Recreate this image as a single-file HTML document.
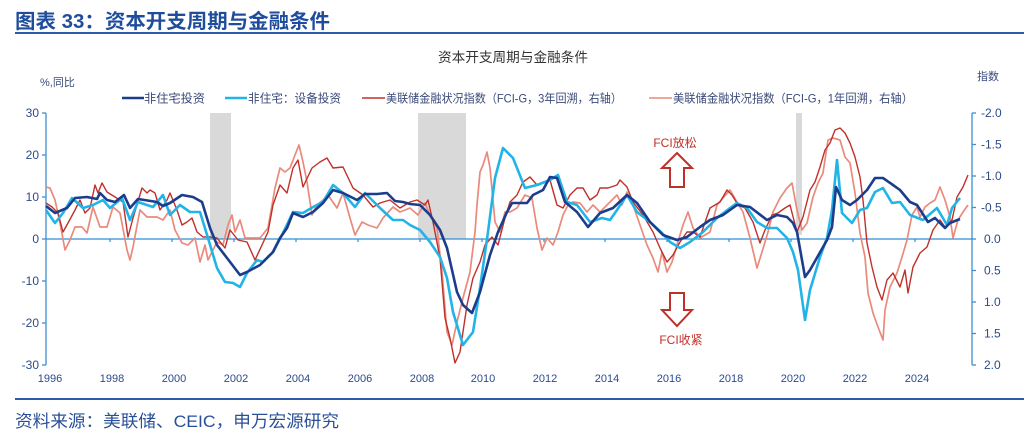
<!DOCTYPE html>
<html><head><meta charset="utf-8"><style>
html,body{margin:0;padding:0;background:#fff;}
svg{display:block;}
text{font-family:"Liberation Sans","Noto Sans CJK SC",sans-serif;}
</style></head><body>
<svg width="1024" height="434" viewBox="0 0 1024 434" xmlns="http://www.w3.org/2000/svg">
<rect width="1024" height="434" fill="#fff"/>
<!-- Title -->
<text x="15" y="28" font-size="20" font-weight="bold" fill="#1f4d9c" textLength="315" lengthAdjust="spacingAndGlyphs">图表 33：资本开支周期与金融条件</text>
<rect x="15" y="32" width="1009" height="2" fill="#2a5caa"/>
<text x="513" y="62" font-size="13.5" fill="#333" text-anchor="middle" textLength="150" lengthAdjust="spacingAndGlyphs">资本开支周期与金融条件</text>
<text x="40" y="86" font-size="11" fill="#3a4a7a">%,同比</text>
<text x="977" y="80" font-size="11" fill="#3a4a7a">指数</text>

<!-- Legend -->
<g stroke-width="2.5" fill="none">
<line x1="122" y1="98" x2="144" y2="98" stroke="#1c3d8c"/>
<line x1="225" y1="98" x2="247" y2="98" stroke="#22b4e6"/>
</g>
<g stroke-width="1.6" fill="none">
<line x1="362" y1="98" x2="385" y2="98" stroke="#c0302a"/>
<line x1="649" y1="98" x2="672" y2="98" stroke="#e98a7c"/>
</g>
<g font-size="12" fill="#3a4a7a">
<text x="144" y="102.5" textLength="61" lengthAdjust="spacingAndGlyphs">非住宅投资</text>
<text x="248" y="102.5" textLength="93" lengthAdjust="spacingAndGlyphs">非住宅：设备投资</text>
<text x="386" y="102.5" textLength="236" lengthAdjust="spacingAndGlyphs">美联储金融状况指数（FCI-G，3年回溯，右轴）</text>
<text x="673" y="102.5" textLength="240" lengthAdjust="spacingAndGlyphs">美联储金融状况指数（FCI-G，1年回溯，右轴）</text>
</g>

<!-- Recession bands -->
<g fill="#d9d9d9">
<rect x="210" y="113" width="21" height="126"/>
<rect x="418" y="113" width="48" height="126"/>
<rect x="796" y="113" width="6" height="122"/>
</g>

<!-- Axes -->
<g stroke="#3d8fd1" stroke-width="1.3" fill="none">
<line x1="46" y1="113" x2="46" y2="365"/>
<line x1="972" y1="113" x2="972" y2="365"/>
<line x1="42" y1="113" x2="46" y2="113"/>
<line x1="42" y1="155" x2="46" y2="155"/>
<line x1="42" y1="197" x2="46" y2="197"/>
<line x1="42" y1="239" x2="46" y2="239"/>
<line x1="42" y1="281" x2="46" y2="281"/>
<line x1="42" y1="323" x2="46" y2="323"/>
<line x1="42" y1="365" x2="46" y2="365"/>
<line x1="972" y1="113" x2="976" y2="113"/>
<line x1="972" y1="144.5" x2="976" y2="144.5"/>
<line x1="972" y1="176" x2="976" y2="176"/>
<line x1="972" y1="207.5" x2="976" y2="207.5"/>
<line x1="972" y1="239" x2="976" y2="239"/>
<line x1="972" y1="270.5" x2="976" y2="270.5"/>
<line x1="972" y1="302" x2="976" y2="302"/>
<line x1="972" y1="333.5" x2="976" y2="333.5"/>
<line x1="972" y1="365" x2="976" y2="365"/>
</g>
<line x1="46" y1="239" x2="972" y2="239" stroke="#2f8fd3" stroke-width="1.3"/>
<g stroke="#2f8fd3" stroke-width="1.2">
<line x1="110" y1="239" x2="110" y2="242"/><line x1="172" y1="239" x2="172" y2="242"/>
<line x1="234" y1="239" x2="234" y2="242"/><line x1="296" y1="239" x2="296" y2="242"/>
<line x1="358" y1="239" x2="358" y2="242"/><line x1="420" y1="239" x2="420" y2="242"/>
<line x1="482" y1="239" x2="482" y2="242"/><line x1="544" y1="239" x2="544" y2="242"/>
<line x1="605" y1="239" x2="605" y2="242"/><line x1="667" y1="239" x2="667" y2="242"/>
<line x1="729" y1="239" x2="729" y2="242"/><line x1="791" y1="239" x2="791" y2="242"/>
<line x1="853" y1="239" x2="853" y2="242"/><line x1="915" y1="239" x2="915" y2="242"/>
</g>

<!-- Left tick labels -->
<g font-size="12" fill="#2c4a8c" text-anchor="end">
<text x="39" y="117">30</text>
<text x="39" y="159">20</text>
<text x="39" y="201">10</text>
<text x="39" y="243">0</text>
<text x="39" y="285">-10</text>
<text x="39" y="327">-20</text>
<text x="39" y="369">-30</text>
</g>
<!-- Right tick labels -->
<g font-size="12" fill="#2c4a8c">
<text x="981" y="117">-2.0</text>
<text x="981" y="148.5">-1.5</text>
<text x="981" y="180">-1.0</text>
<text x="981" y="211.5">-0.5</text>
<text x="984" y="243">0.0</text>
<text x="984" y="274.5">0.5</text>
<text x="984" y="306">1.0</text>
<text x="984" y="337.5">1.5</text>
<text x="984" y="369">2.0</text>
</g>
<!-- X labels -->
<g font-size="11" fill="#2c4a8c" text-anchor="middle">
<text x="50" y="382">1996</text>
<text x="112" y="382">1998</text>
<text x="174" y="382">2000</text>
<text x="236" y="382">2002</text>
<text x="298" y="382">2004</text>
<text x="360" y="382">2006</text>
<text x="422" y="382">2008</text>
<text x="483" y="382">2010</text>
<text x="545" y="382">2012</text>
<text x="607" y="382">2014</text>
<text x="669" y="382">2016</text>
<text x="731" y="382">2018</text>
<text x="793" y="382">2020</text>
<text x="855" y="382">2022</text>
<text x="917" y="382">2024</text>
</g>

<!-- Series: salmon (1yr) -->
<polyline fill="none" stroke="#e98a7c" stroke-width="1.7" stroke-linejoin="round" points="46,187 50,188 55,200 60,223 65,250 70,240 75,227 82,227 87,233 93,207 100,227 107,227 113,207 120,213 127,250 130,260 133,247 140,210 147,217 157,217 163,220 170,210 175,230 182,243 188,245 195,238 200,262 205,245 208,260 217,242 223,245 228,225 232,215 235,232 240,220 245,238 252,238 260,238 268,228 275,188 280,168 285,172 290,168 295,155 299,145 303,162 307,182 312,215 317,205 323,200 328,195 337,208 343,193 350,218 355,235 362,222 368,225 377,228 383,218 393,207 400,212 410,208 418,215 425,203 430,215 437,228 442,272 447,332 452,345 457,322 463,298 470,272 475,232 477,205 480,172 483,165 487,152 490,168 495,222 500,232 505,212 510,212 517,208 525,195 532,198 537,228 542,250 547,238 553,245 558,232 563,215 568,205 573,202 580,203 587,212 593,205 600,212 607,205 617,195 622,205 627,192 633,205 640,225 647,245 653,258 658,272 662,252 667,272 672,262 677,245 683,225 688,212 693,228 700,238 710,232 717,205 723,198 730,190 737,202 743,212 750,238 757,268 762,252 768,232 773,212 780,198 787,188 792,183 797,210 802,230 807,223 813,197 818,183 823,173 828,140 833,138 840,140 845,157 850,163 855,193 860,233 865,257 868,293 873,313 878,327 883,340 885,310 890,287 897,273 902,257 907,240 912,215 917,207 920,217 925,207 930,203 935,200 940,187 945,200 950,217 953,238 958,220 963,212 968,205"/>

<!-- Series: dark red (3yr) -->
<polyline fill="none" stroke="#c0302a" stroke-width="1.4" stroke-linejoin="round" points="46,203 52,207 58,213 63,232 68,223 75,210 80,200 85,213 90,208 95,185 98,193 102,183 107,192 115,197 123,202 128,237 133,218 142,188 147,193 150,190 155,193 160,210 167,200 170,193 177,210 182,225 187,222 192,218 197,232 203,237 210,237 217,238 225,248 230,230 238,240 247,242 255,260 262,245 268,232 273,205 280,185 287,193 293,168 298,160 303,187 312,168 320,162 327,158 333,168 343,167 353,188 363,195 373,207 380,203 390,200 400,208 410,202 417,200 425,205 428,200 433,222 440,258 445,318 450,338 455,363 460,352 467,305 473,278 480,262 485,245 492,237 498,245 505,218 510,202 517,195 523,182 530,177 537,185 543,182 550,180 557,205 563,208 570,195 577,188 583,188 590,200 597,195 600,188 608,188 617,185 620,180 627,187 633,202 643,215 653,232 660,248 667,262 673,255 680,242 687,232 693,232 700,237 710,208 720,202 727,190 732,195 738,205 745,208 753,222 760,243 765,230 772,215 778,213 785,208 790,205 797,232 803,217 810,190 815,182 820,167 825,150 830,143 835,130 840,128 845,133 850,143 855,157 860,177 863,200 867,243 872,267 877,287 882,300 887,280 893,273 900,287 905,270 908,293 913,267 920,253 927,247 933,230 940,220 945,227 952,220 957,197 963,187 968,175"/>

<!-- Series: cyan (equipment) -->
<polyline fill="none" stroke="#22b4e6" stroke-width="2.6" stroke-linejoin="round" points="46,210 55,223 63,213 72,198 83,208 93,205 103,200 110,208 122,198 130,220 138,202 153,207 163,195 170,215 180,205 190,212 200,212 208,238 217,268 225,282 233,283 240,287 247,273 257,260 263,262 273,252 283,233 293,212 303,213 313,207 323,202 333,185 343,193 355,207 365,193 380,208 393,220 403,220 410,225 420,230 430,242 440,257 447,278 453,312 463,345 473,332 480,288 488,232 495,178 503,148 513,158 525,188 537,185 550,180 558,175 567,202 577,205 590,222 602,218 610,220 617,210 627,195 637,212 650,222 662,233 670,242 680,248 690,242 703,232 717,218 730,208 737,203 747,208 757,222 767,228 777,228 787,238 793,252 798,270 805,320 810,290 820,257 827,238 832,210 837,160 842,213 852,223 860,210 867,208 875,192 883,188 892,203 900,202 910,215 923,220 937,208 947,225 952,208 960,198"/>

<!-- Series: navy (non-residential) -->
<polyline fill="none" stroke="#1c3d8c" stroke-width="2.6" stroke-linejoin="round" points="46,206 55,213 67,208 75,198 87,197 97,199 100,193 107,200 115,202 124,195 130,208 138,199 157,202 163,206 170,203 182,195 193,197 202,202 210,228 217,245 227,258 240,275 247,272 260,265 273,252 280,238 287,228 293,213 303,217 313,212 323,203 333,190 343,193 357,200 365,194 377,194 387,193 395,201 403,202 410,204 420,205 430,215 440,230 447,248 457,292 463,305 472,313 480,292 490,255 498,232 507,212 512,203 527,203 533,195 543,190 550,177 557,178 565,202 577,212 588,227 600,213 613,208 627,195 637,203 650,222 663,235 677,240 687,237 700,227 710,220 723,215 737,205 750,207 767,220 777,215 787,217 793,223 797,232 805,277 810,270 827,240 832,227 836,187 842,200 850,205 857,200 867,190 875,178 883,178 893,185 900,190 910,202 917,205 928,222 935,218 945,228 950,223 960,219"/>

<!-- Annotations -->
<text x="675" y="147" font-size="12" fill="#c0302a" text-anchor="middle">FCI放松</text>
<polygon points="677,153 692,168 684,168 684,187 670,187 670,168 662,168" fill="#fff" stroke="#c0302a" stroke-width="2" stroke-linejoin="miter"/>
<polygon points="670,293 684,293 684,310 692,310 677,326 662,310 670,310" fill="#fff" stroke="#c0302a" stroke-width="2" stroke-linejoin="miter"/>
<text x="681" y="344" font-size="12" fill="#c0302a" text-anchor="middle">FCI收紧</text>

<!-- Footer -->
<rect x="15" y="398" width="1009" height="2" fill="#2a5caa"/>
<text x="15" y="427" font-size="17" fill="#2a4f9a" textLength="324" lengthAdjust="spacingAndGlyphs">资料来源：美联储、CEIC，申万宏源研究</text>
</svg>
</body></html>
